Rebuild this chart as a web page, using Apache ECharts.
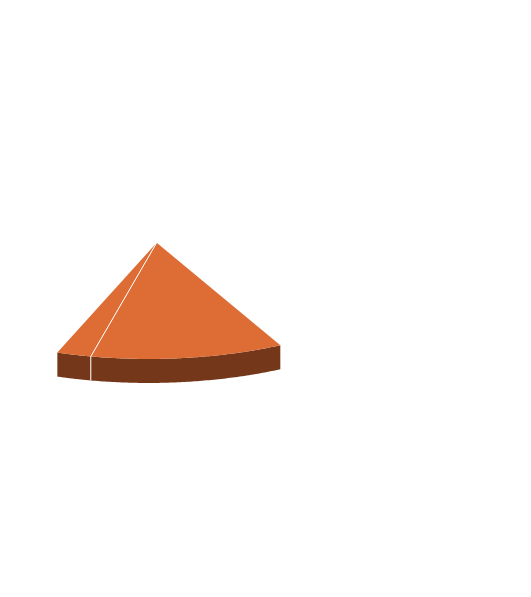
<!DOCTYPE html>
<html>
<head>
<meta charset="utf-8">
<title>3D pie</title>
<script src="https://cdn.jsdelivr.net/npm/echarts@6/dist/echarts.min.js"></script>
<style>
  html, body { margin: 0; padding: 0; background: #ffffff; }
  #root { width: 531px; height: 597px; }
</style>
</head>
<body>
<div id="root"></div>
<script>
// slice data (percent of the whole pie); only the first two are drawn
const sliceNames = ['Segment A', 'Segment B', 'Other'];
const sliceValues = [11.1, 2.0, 86.9];
const sliceShown = [true, true, false];
const startAngle = 63.7; // degrees, clockwise from 3 o'clock

// look of the 3d slab
const topColor = '#DD6C35';
const sideColor = '#743719';
const depth = 24;      // px
const shear = -0.013;  // slight tilt of the disc

const total = sliceValues.reduce((a, b) => a + b, 0);
let acc = 0;
const sliceData = sliceValues.map((v, i) => {
  const a0 = startAngle + acc / total * 360;
  acc += v;
  const a1 = startAngle + acc / total * 360;
  return { name: sliceNames[i], value: [a0, a1, sliceShown[i] ? 1 : 0, i] };
});

const chart = echarts.init(document.getElementById('root'));

function renderSlice (params, api) {
  if (!api.value(2)) return { type: 'group', children: [] };
  const a0 = api.value(0), a1 = api.value(1);
  const idx = api.value(3);
  const c = api.coord([0, 0]);
  const pt = deg => {
    const r = deg * Math.PI / 180;
    const p = api.coord([Math.cos(r), Math.sin(r)]);
    p[1] += shear * (p[0] - c[0]);
    return p;
  };
  const n = 80;
  const arc = [];
  for (let k = 0; k <= n; k++) arc.push(pt(a0 + (a1 - a0) * k / n));
  const low = arc.slice().reverse().map(p => [p[0], p[1] + depth]);

  const children = [
    { type: 'polygon', shape: { points: arc.concat(low) }, style: { fill: sideColor } },
    { type: 'polygon', shape: { points: [c].concat(arc) }, style: { fill: topColor } }
  ];
  // white border between neighbouring visible slices
  const prev = idx > 0 ? sliceShown[idx - 1] : sliceShown[sliceShown.length - 1];
  if (prev) {
    const e = arc[0];
    children.push({ type: 'line', shape: { x1: c[0], y1: c[1], x2: e[0], y2: e[1] },
      style: { stroke: '#ffffff', lineWidth: 1 } });
    children.push({ type: 'line', shape: { x1: e[0], y1: e[1], x2: e[0], y2: e[1] + depth },
      style: { stroke: '#ffffff', lineWidth: 1 } });
  }
  return { type: 'group', children };
}

const cx = 156.7, cy = 242.7, rx = 279, ry = 116.2;

chart.setOption({
  animation: false,
  grid: {
    left: cx - rx, top: cy - ry, width: rx * 2, height: ry * 2,
    containLabel: false, outerBoundsMode: 'none'
  },
  xAxis: { type: 'value', min: -1, max: 1, show: false },
  yAxis: { type: 'value', min: -1, max: 1, inverse: true, show: false },
  series: [{
    type: 'custom',
    coordinateSystem: 'cartesian2d',
    clip: false,
    renderItem: renderSlice,
    data: sliceData
  }]
});
</script>
</body>
</html>
